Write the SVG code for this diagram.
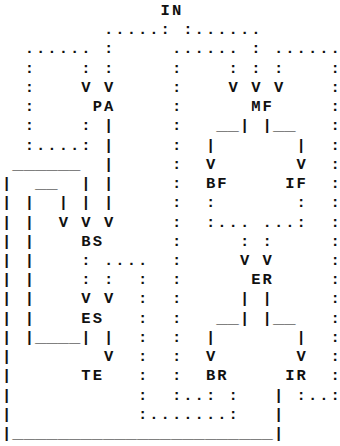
<svg xmlns="http://www.w3.org/2000/svg" width="340" height="446" viewBox="0 0 340 446">
<style>
text{font-family:"Liberation Mono","DejaVu Sans Mono",monospace;font-size:15.5px;font-weight:bold;fill:#111}
</style>
<rect width="340" height="446" fill="#fff"/>
<g id="connectors">
<text x="103.97 115.3 126.63 137.96 149.29 160.62 183.28 194.61 205.94 217.27 228.6 239.93 251.26" y="34.23">.....::......</text>
<text x="24.66 35.99 47.32 58.65 69.98 81.31 103.97 171.95 183.28 194.61 205.94 217.27 228.6 251.26 273.92 285.25 296.58 307.91 319.24 330.57" y="53.46">......:......:......</text>
<text x="24.66 81.31 103.97 171.95 228.6 251.26 273.92 330.57" y="72.69">::::::::</text>
<text x="24.66 81.31 103.97 171.95 228.6 251.26 273.92 330.57" y="91.92">:VV:VVV:</text>
<text x="24.66" y="111.15">:</text>
<text x="171.95" y="111.15">:</text>
<text x="330.57" y="111.15">:</text>
<text x="24.66 81.31 103.97 171.95" y="130.38">::|:</text>
<text x="239.93 262.59" y="130.38">||</text>
<text x="330.57" y="130.38">:</text>
<text x="216.26" y="130.38" textLength="22.66" lengthAdjust="spacingAndGlyphs">__</text>
<text x="272.91" y="130.38" textLength="22.66" lengthAdjust="spacingAndGlyphs">__</text>
<text x="24.66 35.99 47.32 58.65 69.98 81.31 103.97 171.95 205.94 296.58 330.57" y="149.61">:....:|:||:</text>
<text x="12.32" y="168.84" textLength="67.98" lengthAdjust="spacingAndGlyphs">______</text>
<text x="103.97 171.95 205.94 296.58 330.57" y="168.84">|:VV:</text>
<text x="2" y="188.07">|</text>
<text x="34.98" y="188.07" textLength="22.66" lengthAdjust="spacingAndGlyphs">__</text>
<text x="81.31 103.97 171.95" y="188.07">||:</text>
<text x="330.57" y="188.07">:</text>
<text x="2 24.66 58.65 81.31 103.97 171.95 205.94 296.58 330.57" y="207.3">|||||::::</text>
<text x="2 24.66 58.65 81.31 103.97 171.95 205.94 217.27 228.6 239.93 262.59 273.92 285.25 296.58 330.57" y="226.53">||VVV::......::</text>
<text x="2 24.66" y="245.76">||</text>
<text x="171.95 239.93 262.59" y="245.76">:::</text>
<text x="330.57" y="245.76">:</text>
<text x="2 24.66 81.31 103.97 115.3 126.63 137.96 171.95 239.93 262.59 330.57" y="264.99">||:....:VV:</text>
<text x="2 24.66 81.31 103.97 137.96 171.95" y="284.22">||::::</text>
<text x="330.57" y="284.22">:</text>
<text x="2 24.66 81.31 103.97 137.96 171.95 239.93 262.59 330.57" y="303.45">||VV::||:</text>
<text x="2 24.66" y="322.68">||</text>
<text x="137.96 171.95" y="322.68">::</text>
<text x="239.93 262.59" y="322.68">||</text>
<text x="330.57" y="322.68">:</text>
<text x="216.26" y="322.68" textLength="22.66" lengthAdjust="spacingAndGlyphs">__</text>
<text x="272.91" y="322.68" textLength="22.66" lengthAdjust="spacingAndGlyphs">__</text>
<text x="2 24.66" y="341.91">||</text>
<text x="34.98" y="341.91" textLength="45.32" lengthAdjust="spacingAndGlyphs">____</text>
<text x="81.31 103.97 137.96 171.95 205.94 296.58 330.57" y="341.91">||::||:</text>
<text x="2 103.97 137.96 171.95 205.94 296.58 330.57" y="361.14">|V::VV:</text>
<text x="2" y="380.37">|</text>
<text x="137.96 171.95" y="380.37">::</text>
<text x="330.57" y="380.37">:</text>
<text x="2 137.96 171.95 183.28 194.61 205.94 228.6 273.92 296.58 307.91 319.24 330.57" y="399.6">|::..::|:..:</text>
<text x="2 137.96 149.29 160.62 171.95 183.28 194.61 205.94 217.27 228.6 273.92" y="418.83">|:.......:|</text>
<text x="2" y="438.06">|</text>
<text x="12.32" y="438.06" textLength="260.59" lengthAdjust="spacingAndGlyphs">_______________________</text>
<text x="273.92" y="438.06">|</text>
</g>
<g id="IN"><text x="160.62 171.95" y="15">IN</text></g>
<g id="PA"><text x="92.64 103.97" y="111.15">PA</text></g>
<g id="MF"><text x="251.26 262.59" y="111.15">MF</text></g>
<g id="BF"><text x="205.94 217.27" y="188.07">BF</text></g>
<g id="IF"><text x="285.25 296.58" y="188.07">IF</text></g>
<g id="BS"><text x="81.31 92.64" y="245.76">BS</text></g>
<g id="ER"><text x="251.26 262.59" y="284.22">ER</text></g>
<g id="ES"><text x="81.31 92.64" y="322.68">ES</text></g>
<g id="TE"><text x="81.31 92.64" y="380.37">TE</text></g>
<g id="BR"><text x="205.94 217.27" y="380.37">BR</text></g>
<g id="IR"><text x="285.25 296.58" y="380.37">IR</text></g>
</svg>
